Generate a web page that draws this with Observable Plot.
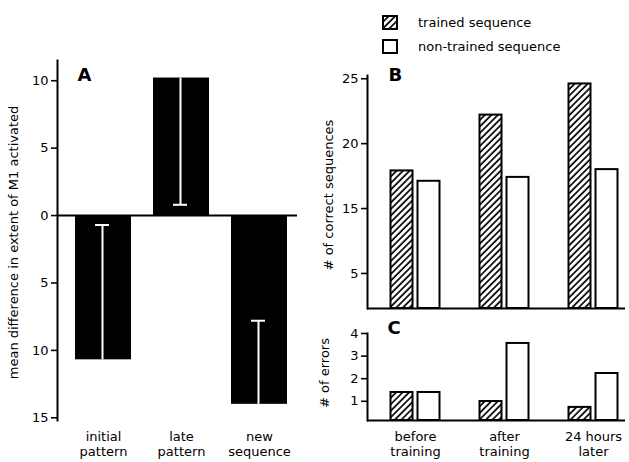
<!DOCTYPE html>
<html>
<head>
<meta charset="utf-8">
<script src="https://cdn.jsdelivr.net/npm/d3@7"></script>
<script src="https://cdn.jsdelivr.net/npm/@observablehq/plot@0.6"></script>
<style>
  body { margin: 0; background: #fff; }
  #chart { position: relative; width: 629px; height: 462px; overflow: hidden; background: #fff;
           font-family: "DejaVu Sans", sans-serif; }
  #chart > svg { position: absolute; left: 0; top: 0; }
  .legend { position: absolute; left: 382px; top: 10px; font-size: 13px; color: #000; }
  .legend .row { display: flex; align-items: center; height: 24px; }
  .legend svg { display: block; margin-right: 20px; }
</style>
</head>
<body>
<div id="chart"></div>
<script>
// ---------- Panel A ----------
const conditionsA = ["initial\npattern", "late\npattern", "new\nsequence"];
const meanDiffA = [-10.7, 10.2, -14.0];
const errA = [10.0, 9.4, 6.2];
const ticksA = [-15, -10, -5, 0, 5, 10];

// ---------- Panels B & C ----------
const stages = ["before\ntraining", "after\ntraining", "24 hours\nlater"];
const seriesNames = ["trained sequence", "non-trained sequence"];
const correctTrained = [17.9, 22.2, 24.6];
const correctNonTrained = [17.1, 17.4, 18.0];
const ticksB = [10, 15, 20, 25];
const tickLabelsB = ["5", "15", "20", "25"];
const errorsTrained = [1.39, 0.99, 0.73];
const errorsNonTrained = [1.39, 3.56, 2.23];
const ticksC = [1, 2, 3, 4];

const FONT = "DejaVu Sans, sans-serif";
const chart = document.getElementById("chart");

function hatchDefs(id) {
  return () => {
    const defs = document.createElementNS("http://www.w3.org/2000/svg", "defs");
    defs.innerHTML = `<pattern id="${id}" patternUnits="userSpaceOnUse" width="4.6" height="4.6" patternTransform="rotate(45)">
      <rect width="4.6" height="4.6" fill="white"></rect>
      <line x1="1" y1="0" x2="1" y2="4.6" stroke="black" stroke-width="1.7"></line></pattern>`;
    return defs;
  };
}

const baseStyle = { background: "transparent", fontFamily: FONT, fontSize: "13px", color: "black", overflow: "visible" };

// Panel A
const dataA = conditionsA.map((c, i) => ({ c, v: meanDiffA[i], e: meanDiffA[i] - Math.sign(meanDiffA[i]) * errA[i] }));
const plotA = Plot.plot({
  width: 629, height: 462,
  marginLeft: 57, marginRight: 332, marginTop: 60, marginBottom: 42,
  style: baseStyle,
  x: { domain: conditionsA, range: [64, 298], paddingInner: 0.28, paddingOuter: 0.14 },
  y: { domain: [-15.2, 11.5], range: [420, 60] },
  marks: [
    Plot.barY(dataA, { x: "c", y: "v", fill: "black" }),
    Plot.ruleX(dataA, { x: "c", y1: "v", y2: "e", stroke: "white", strokeWidth: 2, dx: -1 }),
    Plot.tickY(dataA, { x: "c", y: "e", stroke: "white", strokeWidth: 2, insetLeft: 20, insetRight: 22 }),
    Plot.ruleY([0], { stroke: "black", strokeWidth: 2 }),
    Plot.frame({ anchor: "left", stroke: "black", strokeWidth: 2 }),
    Plot.axisY({ ticks: ticksA, tickFormat: d => String(Math.abs(d)), tickSize: 6, tickPadding: 3,
                 strokeWidth: 1.6, fontSize: 13, label: null }),
    Plot.axisX({ tickSize: 0, tickPadding: 11, lineHeight: 1.08, fontSize: 13, label: null }),
    Plot.text(["mean difference in extent of M1 activated"], { frameAnchor: "left", textAnchor: "middle", rotate: -90, dx: -44, dy: 2, fontSize: 13 }),
    Plot.text(["A"], { frameAnchor: "top-left", dx: 20, dy: 8, lineAnchor: "top", textAnchor: "start", fontWeight: "bold", fontSize: 18 })
  ]
});
chart.appendChild(plotA);

// Panel B
const xB = { domain: stages, range: [370, 637], paddingInner: 29 / 89, paddingOuter: 29 / 178 };
const plotB = Plot.plot({
  width: 629, height: 462,
  marginLeft: 367, marginRight: 4, marginTop: 75, marginBottom: 154,
  style: baseStyle,
  x: { ...xB, axis: null },
  y: { domain: [7.3, 25.25], range: [308, 75] },
  marks: [
    hatchDefs("hatchB"),
    Plot.barY(stages, { x: d => d, y1: 7.3, y2: (d, i) => correctTrained[i], fill: "url(#hatchB)",
                        stroke: "black", strokeWidth: 2, insetLeft: 5.5, insetRight: 32.5 }),
    Plot.barY(stages, { x: d => d, y1: 7.3, y2: (d, i) => correctNonTrained[i], fill: "white",
                        stroke: "black", strokeWidth: 2, insetLeft: 32.5, insetRight: 5.5 }),
    Plot.ruleY([7.3], { stroke: "black", strokeWidth: 2 }),
    Plot.frame({ anchor: "left", stroke: "black", strokeWidth: 2 }),
    Plot.axisY({ ticks: ticksB, tickFormat: d => tickLabelsB[ticksB.indexOf(d)], tickSize: 6, tickPadding: 3,
                 strokeWidth: 1.6, fontSize: 13, label: null }),
    Plot.text(["# of correct sequences"], { frameAnchor: "left", textAnchor: "middle", rotate: -90, dx: -39, dy: 3, fontSize: 13 }),
    Plot.text(["B"], { frameAnchor: "top-left", dx: 21, dy: -7, lineAnchor: "top", textAnchor: "start", fontWeight: "bold", fontSize: 18 })
  ]
});
chart.appendChild(plotB);

// Panel C
const plotC = Plot.plot({
  width: 629, height: 462,
  marginLeft: 367, marginRight: 4, marginTop: 333, marginBottom: 42,
  style: baseStyle,
  x: xB,
  y: { domain: [0.15, 4], range: [420, 333] },
  marks: [
    hatchDefs("hatchC"),
    Plot.barY(stages, { x: d => d, y1: 0.15, y2: (d, i) => errorsTrained[i], fill: "url(#hatchC)",
                        stroke: "black", strokeWidth: 2, insetLeft: 5.5, insetRight: 32.5 }),
    Plot.barY(stages, { x: d => d, y1: 0.15, y2: (d, i) => errorsNonTrained[i], fill: "white",
                        stroke: "black", strokeWidth: 2, insetLeft: 32.5, insetRight: 5.5 }),
    Plot.ruleY([0.15], { stroke: "black", strokeWidth: 2 }),
    Plot.frame({ anchor: "left", stroke: "black", strokeWidth: 2 }),
    Plot.axisY({ ticks: ticksC, tickFormat: d => String(d), tickSize: 6, tickPadding: 3,
                 strokeWidth: 1.6, fontSize: 13, label: null }),
    Plot.axisX({ tickSize: 0, tickPadding: 11, lineHeight: 1.08, fontSize: 13, label: null }),
    Plot.text(["# of errors"], { frameAnchor: "left", textAnchor: "middle", rotate: -90, dx: -43, dy: -4, fontSize: 13 }),
    Plot.text(["C"], { frameAnchor: "top-left", dx: 20, dy: -12, lineAnchor: "top", textAnchor: "start", fontWeight: "bold", fontSize: 18 })
  ]
});
chart.appendChild(plotC);

// Legend
const legend = document.createElement("div");
legend.className = "legend";
legend.innerHTML = seriesNames.map((name, i) => `<div class="row">
  <svg width="16" height="15" viewBox="0 0 16 15">
    <defs><pattern id="hatchL${i}" patternUnits="userSpaceOnUse" width="4.6" height="4.6" patternTransform="rotate(45)">
      <rect width="4.6" height="4.6" fill="white"></rect>
      <line x1="1" y1="0" x2="1" y2="4.6" stroke="black" stroke-width="1.7"></line></pattern></defs>
    <rect x="1" y="1" width="14" height="13" fill="${i === 0 ? `url(#hatchL${i})` : "white"}" stroke="black" stroke-width="2"></rect>
  </svg><span>${name}</span></div>`).join("");
chart.appendChild(legend);
</script>
</body>
</html>
